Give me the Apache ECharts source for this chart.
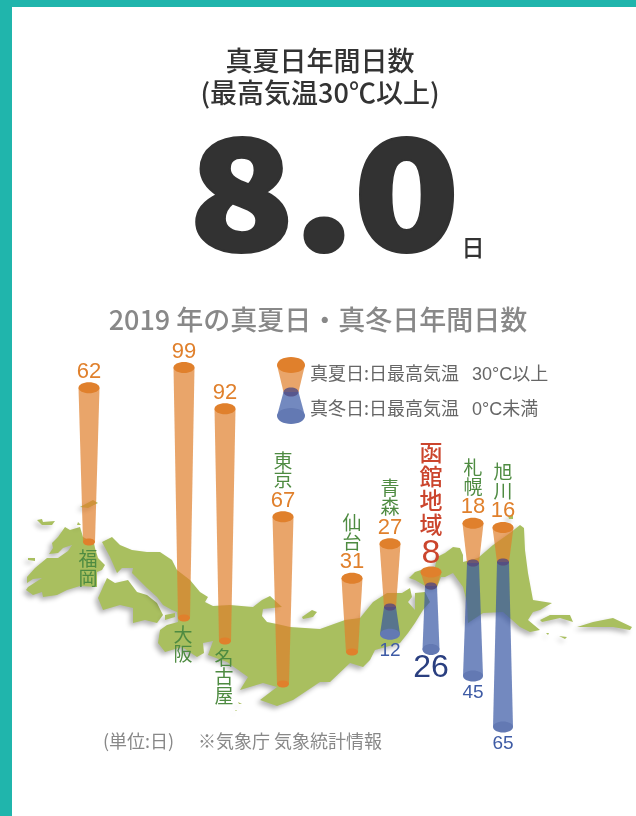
<!DOCTYPE html>
<html>
<head>
<meta charset="utf-8">
<style>
html, body { margin: 0; padding: 0; background: #fff; }
#main { width: 636px; height: 816px; }
</style>
<script src="https://cdn.jsdelivr.net/npm/echarts@6/dist/echarts.min.js"></script>
</head>
<body>
<div id="main"></div>
<script>
var cities = ['福岡', '大阪', '名古屋', '東京', '仙台', '青森', '函館地域', '札幌', '旭川'];
var summerDays = [62, 99, 92, 67, 31, 27, 8, 18, 16];
var winterDays = [null, null, null, null, null, 12, 26, 45, 65];
var highlightCity = '函館地域';
var namesBelow = ['福岡', '大阪', '名古屋'];

// where each city sits on the map: x, and the level (in days on the y axis) of the cone's waist
var cityX = [89, 184, 225, 283, 352, 390, 431, 473, 503];
var cityLevel = [105.4, 76.2, 67.3, 50.8, 63.1, 80.4, 88.5, 97.3, 97.7];

// backdrop outline of the islands, in page pixels
var mapOutlines = [
	[[27,577],[35,568],[47,558],[58,558],[68,551],[72,545],[63,548],[58,553],[49,554],[53,548],[52,543],[58,537],[65,527],[70,530],[80,527],[83,537],[94,543],[95,548],[98,558],[105,565],[102,570],[97,572],[97,587],[80,586],[67,590],[57,595],[43,597],[42,592],[33,595],[26,590],[28,587],[42,578],[33,579],[27,583]],
	[[98,598],[107,578],[115,583],[128,580],[137,592],[147,595],[157,603],[163,615],[157,623],[145,620],[133,623],[133,608],[120,605],[103,610]],
	[[102,542],[112,537],[120,545],[132,550],[147,552],[160,552],[172,560],[177,570],[190,580],[200,592],[208,597],[205,602],[213,606],[230,605],[253,607],[262,600],[270,596],[282,607],[263,609],[262,616],[267,622],[277,624],[290,627],[320,629],[345,620],[360,618],[373,602],[387,593],[402,593],[410,588],[412,597],[408,602],[415,610],[415,593],[425,592],[430,602],[423,610],[415,623],[408,633],[400,643],[375,650],[370,660],[363,667],[350,663],[330,682],[320,682],[293,700],[277,706],[260,700],[277,687],[263,683],[240,690],[248,677],[227,662],[208,655],[213,641],[203,643],[204,653],[197,657],[182,647],[165,652],[158,643],[160,630],[167,625],[178,622],[177,612],[172,610],[163,605],[157,597],[147,588],[132,573],[133,568],[122,568],[117,573],[110,557]],
	[[409,578],[415,572],[421,570],[435,567],[437,557],[445,553],[453,547],[460,548],[463,555],[463,562],[478,558],[493,545],[510,533],[520,525],[524,528],[525,550],[528,573],[533,600],[552,603],[540,610],[533,612],[528,620],[540,630],[530,632],[520,627],[503,612],[483,613],[468,623],[467,603],[463,587],[453,573],[445,577],[441,577],[437,587],[427,587],[415,580]],
	[[540,620],[550,615],[570,615],[573,622],[560,618],[542,622]],
	[[577,627],[593,622],[613,618],[632,627],[630,630],[613,627],[587,627]],
	[[559,636],[567,637],[565,639]],
	[[546,633],[549,633],[548,635]],
	[[508,516],[513,515],[513,519],[509,519]],
	[[302,617],[312,610],[317,612],[313,617],[303,619]],
	[[80,507],[93,500],[98,503],[88,508]],
	[[37,520],[42,519],[43,522],[55,521],[52,525],[42,525]],
	[[78,522],[81,525],[77,525]],
	[[28,558],[35,558],[35,561],[28,560]],
	[[165,615],[175,613],[175,617],[165,620]],
	[[238,702],[242,704],[239,704]],
	[[236,710],[237,711],[235,711]]
];

var ORANGE = '#e0802c', ORANGE_BODY = 'rgba(223,127,43,0.7)';
var BLUE_BODY = 'rgba(52,84,162,0.69)', BLUE_END = '#6379b3';
var BLUE_WAIST = 'rgba(80,75,130,0.8)';
var SCALE = 2.6; // px per day
var SUMMER_HIDDEN = 2.7, WINTER_HIDDEN = 1.5; // days lost under the end caps
var FONT_JP = '"Noto Sans CJK JP", "Noto Sans", sans-serif';
var FONT_MIX = '"Liberation Sans", "Noto Sans CJK JP", sans-serif';
var FONT_NUM = '"Liberation Sans", Arial, sans-serif';

function coneShape(cx, y1, r1, y2, r2, fill) {
	return {
		type: 'polygon',
		shape: { points: [[cx - r1, y1], [cx + r1, y1], [cx + r2, y2], [cx - r2, y2]] },
		style: { fill: fill }
	};
}

function cap(cx, cy, rx, ry, fill) {
	return { type: 'ellipse', shape: { cx: cx, cy: cy, rx: rx, ry: ry }, style: { fill: fill } };
}

function renderMap(params, api) {
	var pts = mapOutlines[api.value(0)].map(function(p) {
		return api.coord(p);
	});
	return {
		type: 'polygon',
		shape: { points: pts },
		style: {
			fill: '#a9bf5f',
			shadowBlur: 5,
			shadowOffsetX: -3,
			shadowOffsetY: 3,
			shadowColor: 'rgba(0,0,0,0.3)'
		}
	};
}

function renderSummer(params, api) {
	var idx = api.value(4);
	var days = api.value(2);
	var base = api.coord([api.value(0), api.value(1)]);
	var top = api.coord([api.value(0), api.value(1) + days - SUMMER_HIDDEN]);
	var name = cities[idx];
	var hot = name === highlightCity;
	var below = namesBelow.indexOf(name) >= 0;
	var labelY = top[1] - (hot ? 18 : 16);
	var kids = [
		coneShape(base[0], top[1], 10.5, base[1], 6, ORANGE_BODY),
		cap(base[0], base[1], 6, 3.5, ORANGE),
		cap(base[0], top[1], 10.5, 5.5, ORANGE),
		{
			type: 'text',
			style: {
				text: String(days),
				x: base[0],
				y: labelY,
				align: 'center',
				verticalAlign: 'middle',
				font: (hot ? '34px ' : '22px ') + FONT_NUM,
				fill: hot ? '#cb452d' : ORANGE
			}
		},
		{
			type: 'text',
			style: {
				text: name.split('').join('\n'),
				x: base[0] - (below ? 1 : 0),
				y: below ? base[1] + 7 : labelY - (hot ? 18 : 11),
				align: 'center',
				verticalAlign: below ? 'top' : 'bottom',
				lineHeight: hot ? 24 : 19,
				font: (hot ? '500 23px ' : '19px ') + FONT_JP,
				fill: hot ? '#cb452d' : '#4e8b41'
			}
		}
	];
	return { type: 'group', children: kids };
}

function renderWinter(params, api) {
	var days = api.value(2);
	var top = api.coord([api.value(0), api.value(1)]);
	var end = api.coord([api.value(0), api.value(1) - days + WINTER_HIDDEN]);
	var hot = cities[api.value(4)] === highlightCity;
	var endR = hot ? 8.5 : 10;
	return {
		type: 'group',
		children: [
			coneShape(top[0], top[1], 6, end[1], endR, BLUE_BODY),
			cap(top[0], top[1], 6, 3.5, BLUE_WAIST),
			cap(top[0], end[1], endR, 5.5, BLUE_END),
			{
				type: 'text',
				style: {
					text: String(days),
					x: top[0],
					y: end[1] + (hot ? 19 : 17),
					align: 'center',
					verticalAlign: 'middle',
					font: (hot ? '32px ' : '19px ') + FONT_NUM,
					fill: hot ? '#2a3f80' : '#3e5ba5'
				}
			}
		]
	};
}

function rows(values) {
	var out = [];
	for (var i = 0; i < cities.length; i++) {
		if (values[i] !== null) {
			out.push([cityX[i], cityLevel[i], values[i], cities[i], i]);
		}
	}
	return out;
}

function label(text, x, y, size, color, weight, align, family) {
	return {
		type: 'text',
		style: {
			text: text,
			x: x,
			y: y,
			align: align || 'center',
			verticalAlign: 'middle',
			font: (weight || 400) + ' ' + size + 'px ' + (family || FONT_JP),
			fill: color
		}
	};
}

var chart = echarts.init(document.getElementById('main'));
var option = {
	animation: false,
	grid: { left: 0, right: 0, top: 0, bottom: 0 },
	xAxis: { type: 'value', min: 0, max: 636, show: false },
	yAxis: [
		{ type: 'value', min: 0, max: 816, inverse: true, show: false },
		{ type: 'value', min: 0, max: 816 / SCALE, show: false }
	],
	graphic: [
		{ type: 'rect', shape: { x: 0, y: 0, width: 636, height: 7 }, style: { fill: '#20b5ac' } },
		{ type: 'rect', shape: { x: 0, y: 0, width: 12, height: 816 }, style: { fill: '#20b5ac' } },
		label('真夏日年間日数', 320, 61, 27, '#333', 500),
		label('(最高気温30℃以上)', 320, 93, 27, '#333', 500),
		{
			type: 'text',
			x: 324,
			y: 192,
			scaleX: 1.13,
			style: {
				text: '8.0',
				x: 0,
				y: 0,
				align: 'center',
				verticalAlign: 'middle',
				font: '900 152px ' + FONT_JP,
				fill: '#323232',
				stroke: '#323232',
				lineWidth: 4,
				lineJoin: 'round'
			}
		},
		label('日', 473, 247, 23, '#333', 500),
		label('2019 年の真夏日・真冬日年間日数', 318, 320, 27, '#888', 500),
		// legend cones
		coneShape(291, 365, 14, 392, 7.5, ORANGE_BODY),
		coneShape(291, 392, 7.5, 416, 14, BLUE_BODY),
		cap(291, 365, 14, 8, ORANGE),
		cap(291, 392, 7.5, 4.5, BLUE_WAIST),
		cap(291, 416, 14, 8, BLUE_END),
		label('真夏日:日最高気温', 310, 373, 18, '#666', 400, 'left'),
		label('30°C以上', 472, 375, 18, '#666', 400, 'left', FONT_MIX),
		label('真冬日:日最高気温', 310, 408, 18, '#666', 400, 'left'),
		label('0°C未満', 472, 410, 18, '#666', 400, 'left', FONT_MIX),
		label('(単位:日)', 103, 741, 18, '#888', 400, 'left'),
		label('※気象庁 気象統計情報', 198, 741, 18, '#888', 400, 'left')
	],
	series: [{
		name: 'map',
		type: 'custom',
		yAxisIndex: 0,
		silent: true,
		renderItem: renderMap,
		data: mapOutlines.map(function(o, i) { return [i]; })
	}, {
		name: '真夏日',
		type: 'custom',
		yAxisIndex: 1,
		renderItem: renderSummer,
		data: rows(summerDays)
	}, {
		name: '真冬日',
		type: 'custom',
		yAxisIndex: 1,
		renderItem: renderWinter,
		data: rows(winterDays)
	}]
};
chart.setOption(option);
</script>
</body>
</html>
